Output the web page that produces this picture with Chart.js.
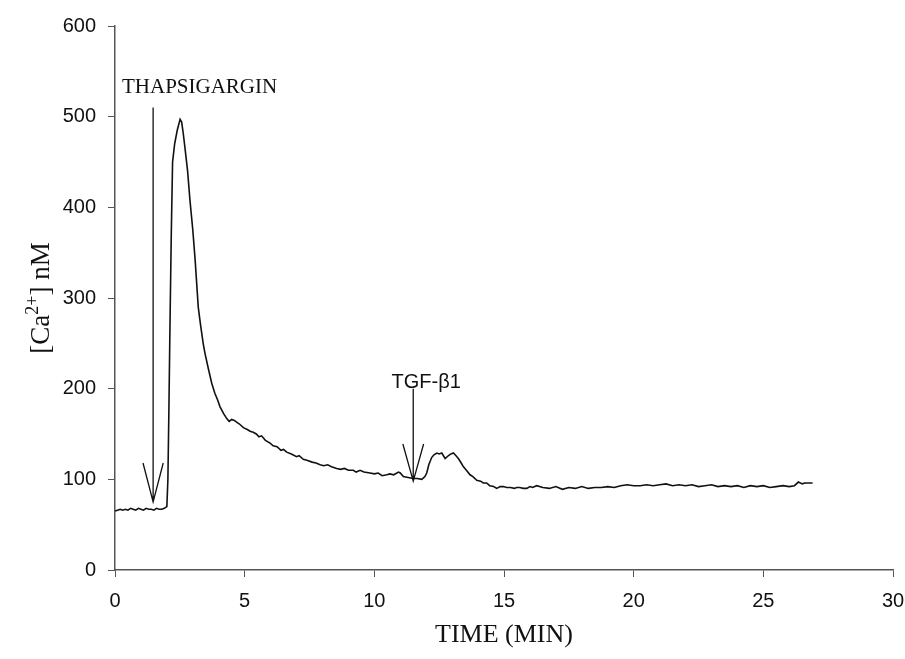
<!DOCTYPE html>
<html><head><meta charset="utf-8">
<script src="https://cdn.jsdelivr.net/npm/chart.js@4/dist/chart.umd.min.js"></script>
<style>html,body{margin:0;padding:0;background:#fff}</style>
</head><body>
<canvas id="c" width="905" height="659"></canvas>
<script>
// ---- data (time in minutes, [Ca2+] in nM) ----
const timeMin = [
 0,0.1,0.2,0.3,0.4,0.5,0.6,0.7,0.8,0.9,1.0,1.1,1.2,1.3,1.4,1.5,1.6,1.7,1.8,1.9,2.0,
 2.04,2.08,2.12,2.17,2.22,2.3,2.4,2.51,2.57,2.63,2.7,2.8,2.89,3.0,3.09,3.21,3.3,3.4,3.47,3.6,3.73,3.85,3.95,4.05,4.2,4.31,4.4,4.5,4.6,4.69,4.8,4.95,
 5.1,5.21,5.33,5.45,5.55,5.65,5.8,5.98,6.1,6.25,6.4,6.5,6.62,6.8,7.0,7.1,7.26,7.4,7.6,7.75,7.91,8.05,8.2,8.35,8.55,8.7,8.85,9.0,9.19,9.3,9.45,9.6,9.83,
 10.0,10.15,10.3,10.48,10.6,10.75,10.93,11.0,11.12,11.3,11.5,11.65,11.83,11.95,12.02,12.1,12.21,12.3,12.41,12.5,12.6,12.73,12.85,12.95,13.05,13.15,13.24,13.35,13.43,13.55,13.69,13.8,13.95,
 14.1,14.2,14.33,14.45,14.6,14.72,14.85,14.98,15.1,15.25,15.4,15.49,15.6,15.75,15.88,16.0,16.1,16.26,
 16.5,16.75,17.0,17.25,17.5,17.75,18.0,18.25,18.5,18.75,19.0,19.25,19.5,19.75,20.0,20.25,20.5,20.75,21.0,21.25,21.5,21.75,22.0,22.25,22.5,22.75,23.0,23.25,23.5,23.75,24.0,24.25,24.5,24.75,25.0,25.25,25.5,25.75,26.0,26.2,26.35,26.5,26.6,26.75,26.9
];
const caNM = [
 65,66,67,66,67,66,68,67,66,68,67,66,68,67,67,66,68,67,67,68,70,
 100,180,270,370,450,470,485,497,494,482,465,440,408,375,342,290,270,250,239,222,206,195,188,180,172,167,164,166,165,163,161,157,
 155,153,152,150,147,148,143,140,137,136,132,133,130,128,125,126,122,121,119,118,116,115,116,114,112,111,112,110,110,108,110,108,107,
 106,107,104,105,106,105,108,107,103,102,101,101,100,103,107,116,124,127,129,128,129,123,126,128,129,126,123,118,114,110,105,103,99,
 98,96,96,93,92,90,92,92,91,91,90,91,91,90,90,92,91,93,
 91,90,92,89,91,90,92,90,91,91,92,91,93,94,93,93,94,93,94,95,93,94,93,94,92,93,94,92,93,92,93,91,93,92,93,91,92,93,92,93,97,95,96,96,96
];
const xTickValues = [0,5,10,15,20,25,30];
const yTickValues = [0,100,200,300,400,500,600];

// annotation arrows (x in min, y in nM)
const thapsArrowX = [1.08,1.47,1.86,null,1.47,1.47];
const thapsArrowY = [118,75,118,null,75,510];
const tgfArrowX = [11.1,11.5,11.9,null,11.5,11.5];
const tgfArrowY = [139,98,139,null,98,200];
const labelTexts = ['THAPSIGARGIN','TGF-β1'];
const labelX = [0.27,12.0];
const labelY = [532,207];
const yTitleParts = ['[Ca','2+','] nM'];

const toPts = (xs, ys) => xs.map((x,i)=> x===null ? {x:NaN,y:null} : {x:x,y:ys[i]});

const SERIF = '"Liberation Serif", "Times New Roman", serif';
const SANS = '"Liberation Sans", Arial, sans-serif';

const textPlugin = {
  id:'annot',
  afterDatasetsDraw(chart){
    const {ctx, scales:{x,y}, chartArea} = chart;
    ctx.save();
    ctx.fillStyle = '#111';
    ctx.textBaseline = 'middle';
    ctx.font = '21px ' + SERIF;
    ctx.textAlign = 'left';
    ctx.fillText(labelTexts[0], x.getPixelForValue(labelX[0]), y.getPixelForValue(labelY[0]));
    ctx.font = '20px ' + SANS;
    ctx.textAlign = 'center';
    ctx.fillText(labelTexts[1], x.getPixelForValue(labelX[1]), y.getPixelForValue(labelY[1]));
    // y axis title with superscript
    const big = '27px ' + SERIF, small = '18px ' + SERIF;
    ctx.font = big; const w0 = ctx.measureText(yTitleParts[0]).width, w2 = ctx.measureText(yTitleParts[2]).width;
    ctx.font = small; const w1 = ctx.measureText(yTitleParts[1]).width;
    const total = w0 + w1 + w2;
    ctx.translate(40, (chartArea.top + chartArea.bottom)/2);
    ctx.rotate(-Math.PI/2);
    ctx.textAlign = 'left';
    ctx.textBaseline = 'alphabetic';
    let cx = -total/2;
    const base = 9;
    ctx.font = big; ctx.fillText(yTitleParts[0], cx, base); cx += w0;
    ctx.font = small; ctx.fillText(yTitleParts[1], cx, base - 11); cx += w1;
    ctx.font = big; ctx.fillText(yTitleParts[2], cx, base);
    ctx.restore();
  }
};

new Chart(document.getElementById('c'), {
  type:'line',
  data:{
    datasets:[
      {data: timeMin.map((t,i)=>({x:t,y:caNM[i]})), borderColor:'#111', borderWidth:1.6, pointRadius:0, tension:0},
      {data: toPts(thapsArrowX, thapsArrowY), borderColor:'#111', borderWidth:1.3, pointRadius:0, spanGaps:false},
      {data: toPts(tgfArrowX, tgfArrowY), borderColor:'#111', borderWidth:1.3, pointRadius:0, spanGaps:false}
    ]
  },
  options:{
    responsive:false, animation:false, devicePixelRatio:1,
    layout:{padding:{top:26,right:0,left:0,bottom:0}},
    plugins:{legend:{display:false}, tooltip:{enabled:false}},
    scales:{
      x:{type:'linear', min:0, max:30,
        afterBuildTicks(s){ s.ticks = xTickValues.map(v=>({value:v})); },
        afterFit(s){ s.height = 89; s.paddingLeft = 0; s.paddingRight = 12; },
        grid:{drawOnChartArea:false, drawTicks:true, tickLength:7, color:'#555'},
        border:{color:'#555', width:1.5},
        ticks:{color:'#111', padding:12, font:{family:SANS, size:20}, maxRotation:0},
        title:{display:true, text:'TIME (MIN)', color:'#111', padding:{top:0,bottom:8}, font:{family:SERIF, size:26}}
      },
      y:{min:0, max:600,
        afterBuildTicks(s){ s.ticks = yTickValues.map(v=>({value:v})); },
        afterFit(s){ s.width = 115; },
        grid:{drawOnChartArea:false, drawTicks:true, tickLength:7, color:'#555'},
        border:{color:'#555', width:1.5},
        ticks:{color:'#111', padding:12, font:{family:SANS, size:20}},
        title:{display:false}
      }
    }
  },
  plugins:[textPlugin]
});
</script>
</body></html>
